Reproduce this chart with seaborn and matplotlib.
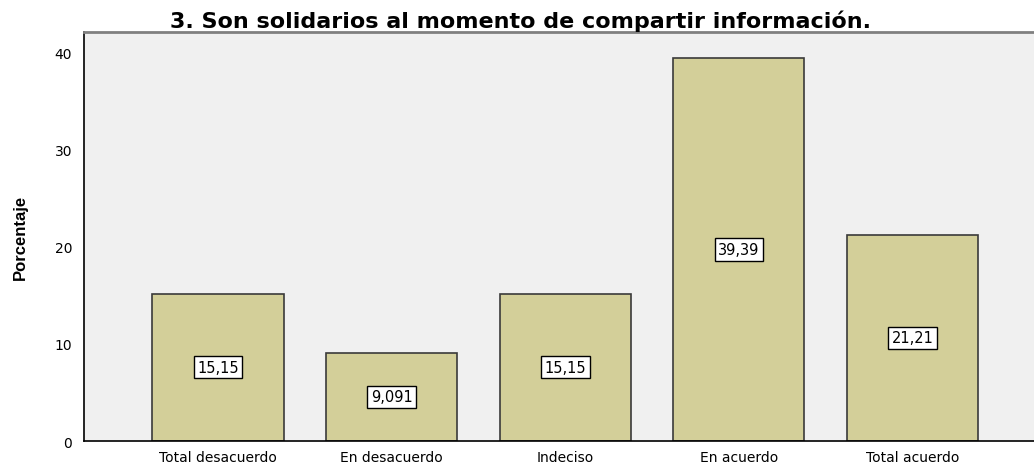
import matplotlib
matplotlib.use("Agg")
import matplotlib.pyplot as plt
import seaborn as sns
import pandas as pd

#%% data
categorias = ["Total desacuerdo", "En desacuerdo", "Indeciso", "En acuerdo", "Total acuerdo"]
porcentajes = [15.15, 9.091, 15.15, 39.39, 21.21]
etiquetas = ["15,15", "9,091", "15,15", "39,39", "21,21"]
y_ticks = [0, 10, 20, 30, 40]

df = pd.DataFrame({"Respuesta": categorias, "Porcentaje": porcentajes})

#%% plot
sns.set_style("white")
plt.rcParams["font.family"] = ["DejaVu Sans"]
plt.rcParams["text.color"] = "black"
plt.rcParams["axes.labelcolor"] = "black"
plt.rcParams["xtick.color"] = "black"
plt.rcParams["ytick.color"] = "black"

fig = plt.figure(figsize=(10.34, 4.64), dpi=100)
ax = fig.add_axes([0.0812, 0.0474, 0.9188, 0.8815])
ax.set_facecolor("#F0F0F0")

sns.barplot(data=df, x="Respuesta", y="Porcentaje", color="#D3CF99",
            saturation=1, width=0.755, edgecolor="#3a3a3a", linewidth=1.2, ax=ax)

# cajas con el valor en el centro de cada barra
for i, (v, txt) in enumerate(zip(porcentajes, etiquetas)):
    ax.text(i, v / 2, txt, ha="center", va="center", fontsize=10.5,
            bbox=dict(boxstyle="square,pad=0.25", facecolor="white", edgecolor="black", linewidth=1))

ax.set_xlim(-0.772, 4.70)
ax.set_ylim(0, 42.06)
ax.set_yticks(y_ticks)
ax.tick_params(axis="both", direction="out", length=5, width=1, labelsize=10)
ax.tick_params(axis="x", labelsize=10, pad=1.5)
ax.set_xlabel("")
ax.set_ylabel("Porcentaje", fontsize=12, fontweight="bold",
              family=["Liberation Sans Narrow", "Liberation Sans"], labelpad=19)

for side in ["left", "bottom"]:
    ax.spines[side].set_color("black")
    ax.spines[side].set_linewidth(1.2)
ax.spines["top"].set_color("#808080")
ax.spines["top"].set_linewidth(2)
ax.spines["right"].set_visible(False)

fig.text(0.503, 0.955, "3. Son solidarios al momento de compartir información.",
         ha="center", va="center", fontsize=16, fontweight="bold")

fig.savefig("out.png", dpi=100)
